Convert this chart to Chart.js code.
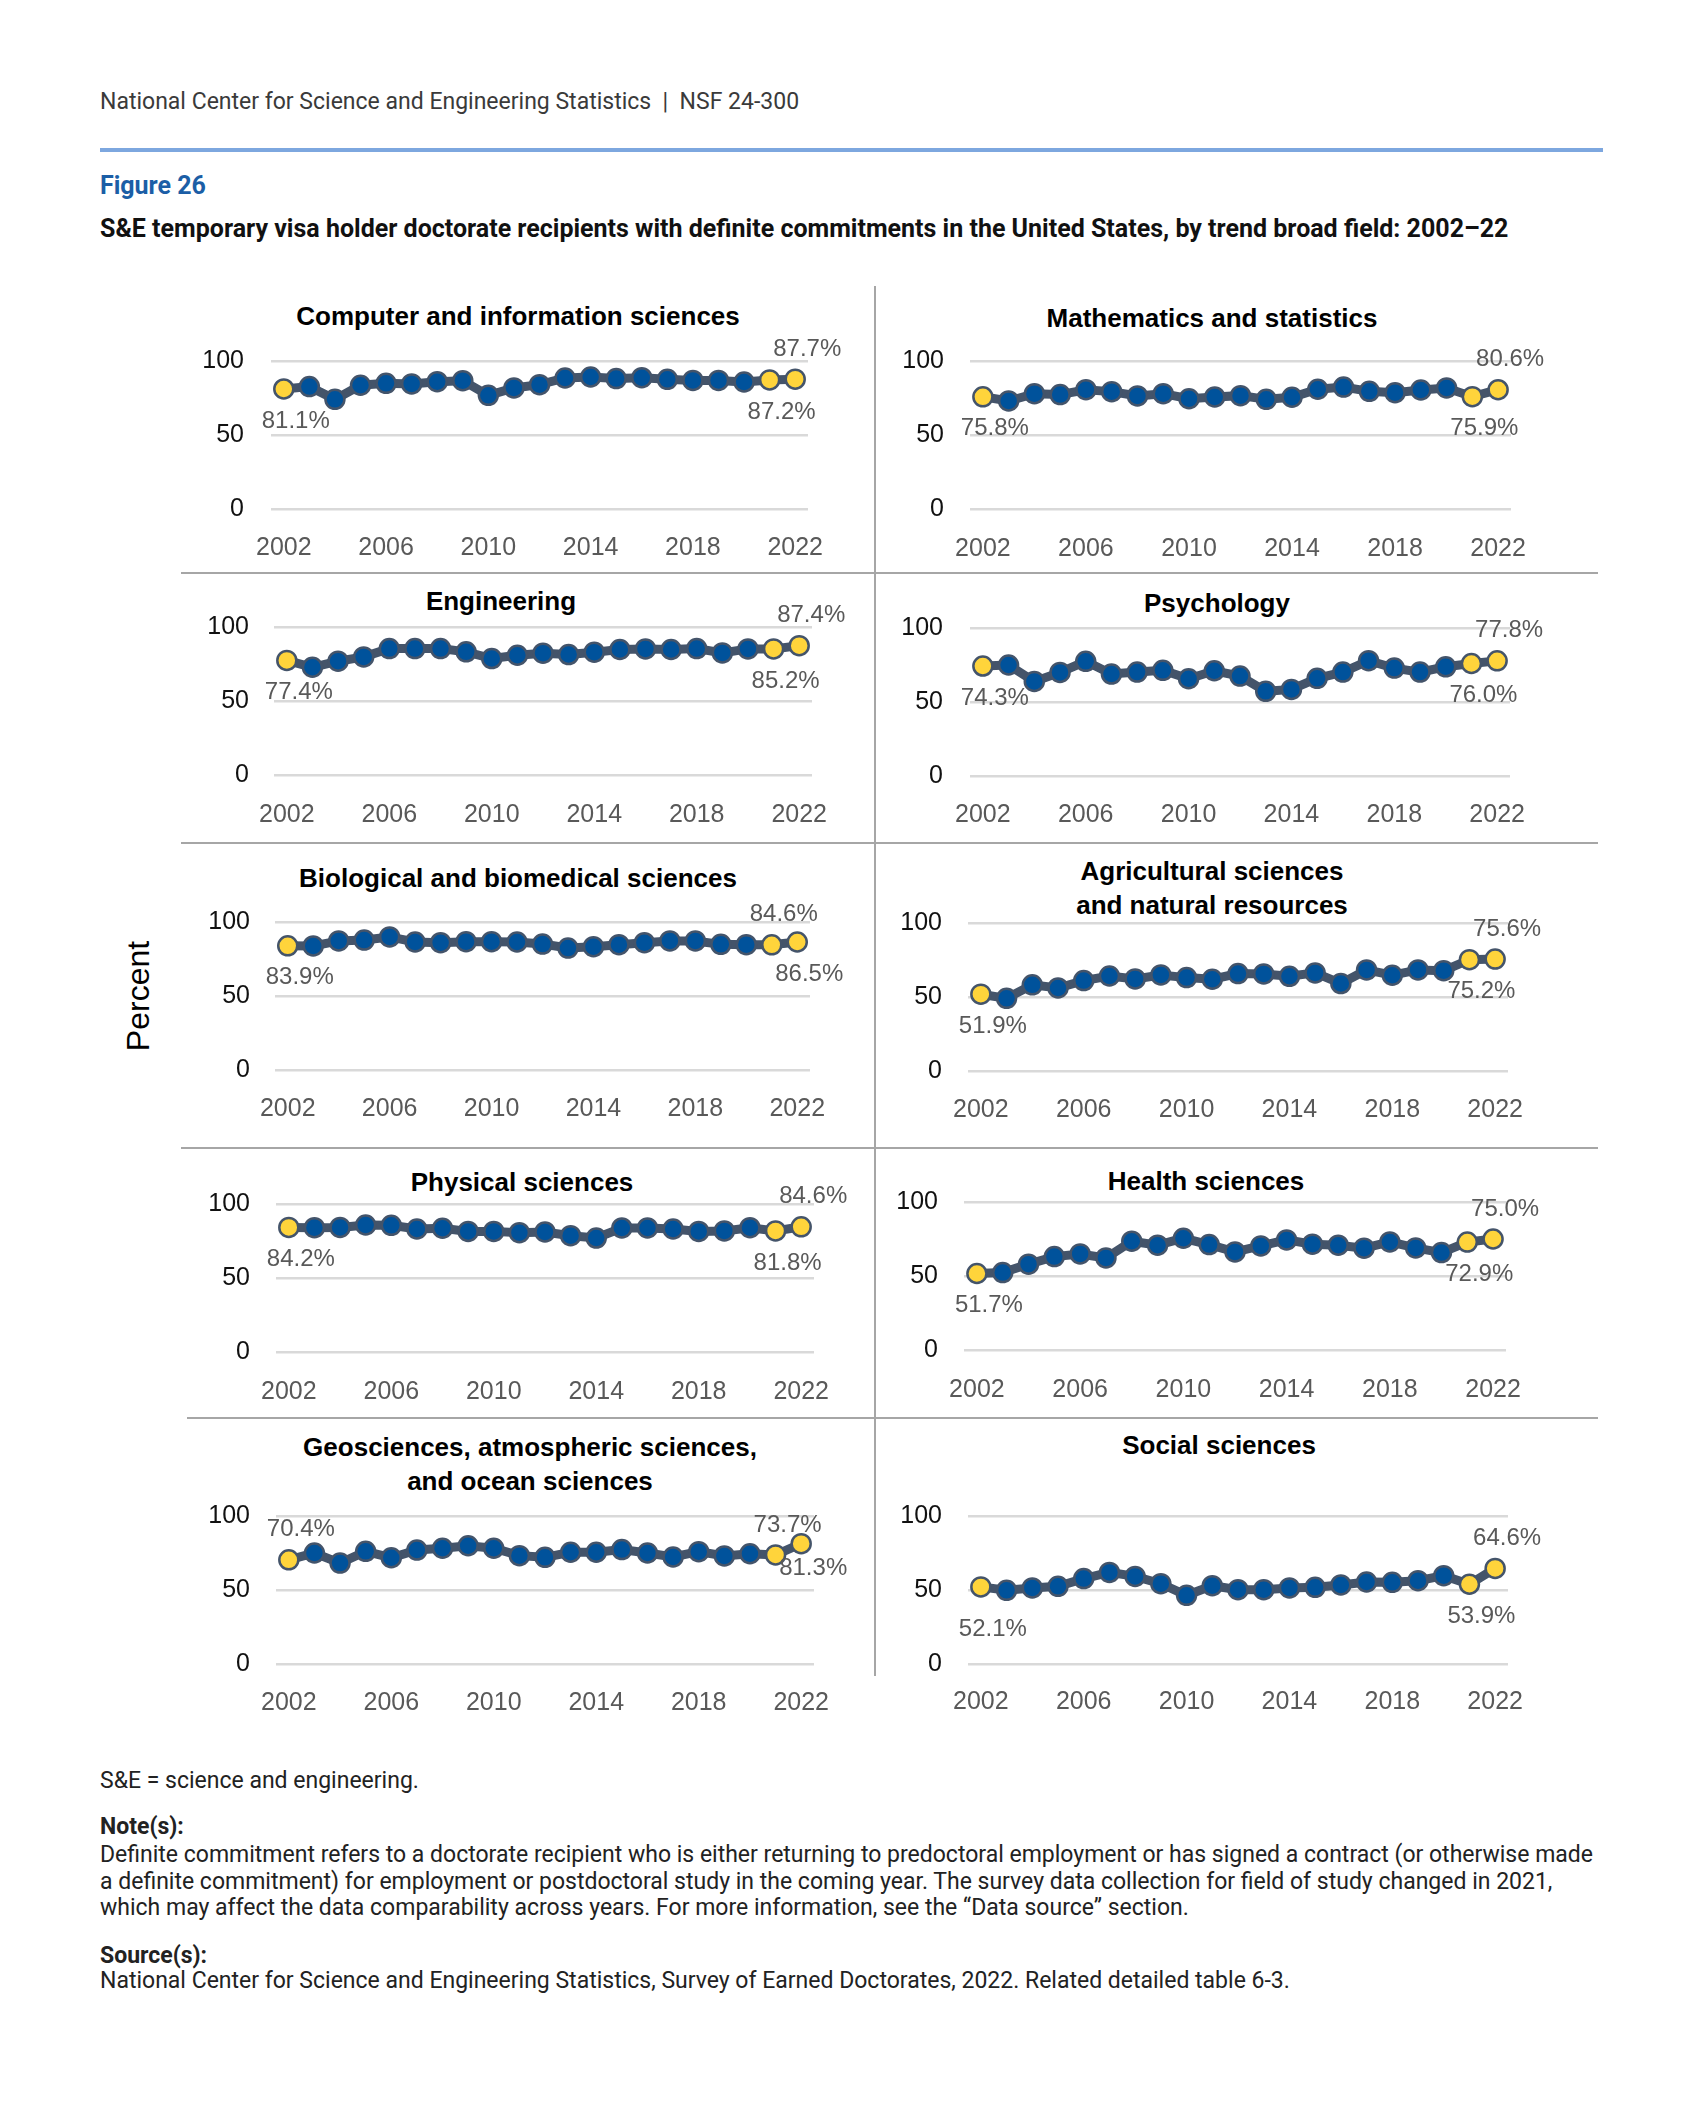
<!DOCTYPE html>
<html>
<head>
<meta charset="utf-8">
<script src="https://cdn.jsdelivr.net/npm/chart.js@4.4.0/dist/chart.umd.min.js"></script>
<style>
    body { margin: 0; background: #fff; }
    #page { position: relative; width: 1699px; height: 2106px; overflow: hidden; font-family: Roboto, "Noto Sans", sans-serif; color: #222; }
    .abs { position: absolute; white-space: nowrap; }
    .ptitle { position: absolute; transform: translate(-50%, -50%); font: bold 26px "Liberation Sans", Arial, sans-serif; color: #000; text-align: center; line-height: 34px; white-space: nowrap; }
    .rule { position: absolute; background: #a6a6a6; }
    canvas { position: absolute; }
</style>
</head>
<body>
<div id="page">
    <div class="abs" style="left:100px;top:89px;font-size:23px;line-height:26px;color:#3a3a3a;">National Center for Science and Engineering Statistics &nbsp;|&nbsp; NSF 24-300</div>
    <div class="abs" style="left:100px;top:148px;width:1503px;height:4px;background:#7da7df;"></div>
    <div class="abs" style="left:100px;top:172px;font-size:25px;line-height:28px;font-weight:bold;color:#1b5ea6;">Figure 26</div>
    <div class="abs" style="left:100px;top:215px;font-size:25px;line-height:28px;font-weight:bold;color:#111;">S&amp;E temporary visa holder doctorate recipients with definite commitments in the United States, by trend broad field: 2002–22</div>

    <div class="abs" style="left:138px;top:996px;transform:translate(-50%,-50%) rotate(-90deg);font:32px 'Liberation Sans',Arial,sans-serif;color:#000;">Percent</div>

    <div class="abs" style="left:100px;top:1768px;font-size:23px;line-height:26px;">S&amp;E = science and engineering.</div>
    <div class="abs" style="left:100px;top:1814px;font-size:23px;line-height:26px;font-weight:bold;">Note(s):</div>
    <div class="abs" style="left:100px;top:1842px;font-size:23px;line-height:26.5px;">Definite commitment refers to a doctorate recipient who is either returning to predoctoral employment or has signed a contract (or otherwise made<br>a definite commitment) for employment or postdoctoral study in the coming year. The survey data collection for field of study changed in 2021,<br>which may affect the data comparability across years. For more information, see the “Data source” section.</div>
    <div class="abs" style="left:100px;top:1943px;font-size:23px;line-height:26px;font-weight:bold;">Source(s):</div>
    <div class="abs" style="left:100px;top:1968px;font-size:23px;line-height:26px;">National Center for Science and Engineering Statistics, Survey of Earned Doctorates, 2022. Related detailed table 6-3.</div>
</div>
<script>
    // Categories and ticks
    const years = ['2002', '2003', '2004', '2005', '2006', '2007', '2008', '2009', '2010', '2011', '2012',
                   '2013', '2014', '2015', '2016', '2017', '2018', '2019', '2020', '2021', '2022'];
    const xTickLabels = ['2002', '2006', '2010', '2014', '2018', '2022'];
    const yTicks = [0, 50, 100];
    const highlightYears = ['2002', '2021', '2022'];

    // Percent with definite commitments, 2002-2022
    const computerInfo = [81.1, 82.7, 74.1, 83.6, 84.9, 84.5, 86.0, 86.7, 76.8, 81.8, 84.0, 88.5, 89.2, 88.1, 88.7, 87.6, 86.9, 86.9, 85.8, 87.2, 87.7];
    const mathStats = [75.8, 73.0, 77.9, 77.3, 80.6, 79.3, 76.4, 77.9, 74.5, 75.7, 76.6, 74.1, 75.5, 80.9, 82.4, 79.5, 78.6, 80.4, 81.8, 75.9, 80.6];
    const engineering = [77.4, 72.8, 76.9, 79.8, 85.4, 85.4, 85.4, 83.2, 78.7, 80.9, 82.3, 81.4, 83.0, 84.8, 85.2, 84.8, 85.4, 82.5, 85.2, 85.2, 87.4];
    const psychology = [74.3, 75.0, 63.9, 70.0, 77.5, 68.9, 70.2, 71.4, 65.7, 71.1, 67.5, 57.2, 58.5, 66.0, 70.2, 77.9, 72.9, 70.2, 73.8, 76.0, 77.8];
    const biological = [83.9, 83.8, 87.2, 87.8, 89.9, 86.5, 86.0, 86.7, 86.7, 86.5, 85.1, 82.4, 83.3, 84.7, 86.0, 87.2, 87.2, 84.9, 84.7, 84.6, 86.5];
    const agricultural = [51.9, 49.1, 58.2, 56.1, 61.1, 64.2, 62.2, 64.9, 63.1, 62.0, 65.8, 65.6, 64.0, 66.3, 59.1, 68.3, 64.7, 68.3, 67.8, 75.2, 75.6];
    const physical = [84.2, 84.0, 84.2, 85.8, 85.6, 83.1, 83.6, 81.5, 81.5, 80.6, 81.1, 78.6, 77.0, 83.8, 83.8, 83.1, 81.5, 81.8, 84.0, 81.8, 84.6];
    const health = [51.7, 52.3, 58.0, 63.1, 64.9, 62.2, 73.5, 70.8, 75.5, 71.2, 66.3, 70.3, 74.4, 71.5, 70.8, 68.8, 73.0, 69.0, 65.8, 72.9, 75.0];
    const geosciences = [70.4, 75.0, 68.2, 76.1, 71.8, 77.0, 78.2, 79.9, 78.2, 73.2, 72.1, 75.5, 75.5, 77.3, 75.0, 72.3, 75.9, 73.0, 74.5, 73.7, 81.3];
    const social = [52.1, 49.8, 51.4, 52.5, 57.7, 61.9, 59.2, 54.3, 46.4, 52.9, 50.2, 50.2, 51.4, 51.8, 53.4, 55.4, 55.2, 56.3, 59.7, 53.9, 64.6];

    // Panel layout (page pixels)
    const panels = [
        { title: ['Computer and information sciences'], data: computerInfo, gx0: 271, gx1: 808, y100: 361, y0: 509, ylab: 244, xlab: 548, tx: 518, ty: 316,
          place: { '2002': 'below', '2021': 'below', '2022': 'above' } },
        { title: ['Mathematics and statistics'], data: mathStats, gx0: 970, gx1: 1511, y100: 361, y0: 509, ylab: 944, xlab: 549, tx: 1212, ty: 318,
          place: { '2002': 'below', '2021': 'below', '2022': 'above' } },
        { title: ['Engineering'], data: engineering, gx0: 274, gx1: 812, y100: 627, y0: 775, ylab: 249, xlab: 815, tx: 501, ty: 601,
          place: { '2002': 'below', '2021': 'below', '2022': 'above' } },
        { title: ['Psychology'], data: psychology, gx0: 970, gx1: 1510, y100: 628, y0: 776, ylab: 943, xlab: 815, tx: 1217, ty: 603,
          place: { '2002': 'below', '2021': 'below', '2022': 'above' } },
        { title: ['Biological and biomedical sciences'], data: biological, gx0: 275, gx1: 810, y100: 922, y0: 1070, ylab: 250, xlab: 1109, tx: 518, ty: 878,
          place: { '2002': 'below', '2021': 'above', '2022': 'below' } },
        { title: ['Agricultural sciences', 'and natural resources'], data: agricultural, gx0: 968, gx1: 1508, y100: 923, y0: 1071, ylab: 942, xlab: 1110, tx: 1212, ty: 888,
          place: { '2002': 'below', '2021': 'below', '2022': 'above' } },
        { title: ['Physical sciences'], data: physical, gx0: 276, gx1: 814, y100: 1204, y0: 1352, ylab: 250, xlab: 1392, tx: 522, ty: 1182,
          place: { '2002': 'below', '2021': 'below', '2022': 'above' } },
        { title: ['Health sciences'], data: health, gx0: 964, gx1: 1506, y100: 1202, y0: 1350, ylab: 938, xlab: 1390, tx: 1206, ty: 1181,
          place: { '2002': 'below', '2021': 'below', '2022': 'above' } },
        { title: ['Geosciences, atmospheric sciences,', 'and ocean sciences'], data: geosciences, gx0: 276, gx1: 814, y100: 1516, y0: 1664, ylab: 250, xlab: 1703, tx: 530, ty: 1464,
          place: { '2002': 'above', '2021': 'above', '2022': 'belowNear' } },
        { title: ['Social sciences'], data: social, gx0: 968, gx1: 1508, y100: 1516, y0: 1664, ylab: 942, xlab: 1702, tx: 1219, ty: 1445,
          place: { '2002': 'belowFar', '2021': 'below', '2022': 'above' } }
    ];

    const LW = 120, TP = 50, RP = 70, BH = 70;
    const page = document.getElementById('page');

    // Divider rules between panels
    function addRule(left, top, width, height) {
        const d = document.createElement('div');
        d.className = 'rule';
        d.style.cssText = 'left:' + left + 'px;top:' + top + 'px;width:' + width + 'px;height:' + height + 'px;';
        page.appendChild(d);
    }
    addRule(874, 286, 2, 1390);
    addRule(181, 572, 1417, 2);
    addRule(181, 842, 1417, 2);
    addRule(181, 1147, 1417, 2);
    addRule(187, 1417, 1411, 2);

    // Value labels on highlighted points
    const offsets = { above: -30, below: 32, belowNear: 25, belowFar: 42 };
    const pointLabels = {
        id: 'pointLabels',
        afterDatasetsDraw(chart, args, opts) {
            const ctx = chart.ctx;
            const meta = chart.getDatasetMeta(0);
            const values = chart.data.datasets[0].data;
            ctx.save();
            ctx.font = '24px "Liberation Sans", Arial, sans-serif';
            ctx.fillStyle = '#595959';
            ctx.textAlign = 'center';
            ctx.textBaseline = 'middle';
            Object.keys(opts.place).forEach(function(yr) {
                const i = chart.data.labels.indexOf(yr);
                const pt = meta.data[i];
                ctx.fillText(values[i].toFixed(1) + '%', pt.x + 12, pt.y + offsets[opts.place[yr]]);
            });
            ctx.restore();
        }
    };

    function createPanel(p) {
        const t = document.createElement('div');
        t.className = 'ptitle';
        t.style.left = p.tx + 'px';
        t.style.top = p.ty + 'px';
        t.innerHTML = p.title.join('<br>');
        page.appendChild(t);

        const canvas = document.createElement('canvas');
        const w = p.gx1 - p.gx0 + LW + RP;
        const h = p.y0 - p.y100 + TP + BH;
        canvas.width = w;
        canvas.height = h;
        canvas.style.left = (p.gx0 - LW) + 'px';
        canvas.style.top = (p.y100 - TP) + 'px';
        canvas.style.width = w + 'px';
        canvas.style.height = h + 'px';
        page.appendChild(canvas);

        new Chart(canvas.getContext('2d'), {
            type: 'line',
            data: {
                labels: years,
                datasets: [{
                    data: p.data,
                    borderColor: '#44546a',
                    borderWidth: 9,
                    tension: 0,
                    clip: false,
                    pointRadius: 9.5,
                    pointBorderWidth: 2.5,
                    pointBorderColor: '#44546a',
                    pointBackgroundColor: years.map(y => highlightYears.includes(y) ? '#ffd43b' : '#00529b')
                }]
            },
            options: {
                responsive: false,
                animation: false,
                layout: { padding: { top: TP, right: RP, left: 0, bottom: 0 } },
                plugins: {
                    legend: { display: false },
                    tooltip: { enabled: false },
                    pointLabels: { place: p.place }
                },
                scales: {
                    x: {
                        offset: true,
                        grid: { display: false, drawTicks: false },
                        border: { display: false },
                        afterFit: s => { s.height = BH; },
                        ticks: {
                            autoSkip: false,
                            maxRotation: 0,
                            padding: p.xlab - p.y0 - 15,
                            color: '#595959',
                            font: { family: '"Liberation Sans", Arial, sans-serif', size: 25 },
                            callback: function(val) {
                                const l = this.getLabelForValue(val);
                                return xTickLabels.includes(l) ? l : '';
                            }
                        }
                    },
                    y: {
                        min: 0,
                        max: 100,
                        grid: { color: '#d9d9d9', lineWidth: 2.5, drawTicks: false },
                        border: { display: false },
                        afterFit: s => { s.width = LW; },
                        ticks: {
                            stepSize: 50,
                            padding: p.gx0 - p.ylab,
                            color: '#111',
                            font: { family: '"Liberation Sans", Arial, sans-serif', size: 25 },
                            callback: v => yTicks.includes(v) ? String(v) : ''
                        }
                    }
                }
            },
            plugins: [pointLabels]
        });
    }

    panels.forEach(createPanel);
</script>
</body>
</html>
